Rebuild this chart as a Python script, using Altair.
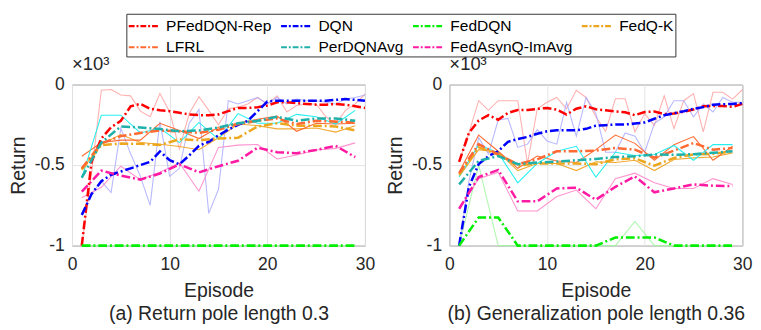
import altair as alt
import pandas as pd

methods = ["PFedDQN-Rep", "DQN", "FedDQN", "FedQ-K", "LFRL", "PerDQNAvg", "FedAsynQ-ImAvg"]
main_colors = ["#ff0000", "#0000ff", "#00ee00", "#eda71f", "#ff6a33", "#1fb0aa", "#ff1aa3"]
raw_colors = ["#ff9c9c", "#a6a6ff", "#9cf59c", "#f0a528", "#ff6428", "#19eeee", "#ff80c8"]
raw_opacity = [0.8, 0.8, 0.8, 0.95, 0.95, 0.95, 0.85]

ep_all = list(range(1, 31))
ep_odd = list(range(1, 30, 2))

# ---------------- (a) Return pole length 0.3 ----------------
a_smooth = {
    "PFedDQN-Rep": [-1.0, -0.48, -0.335, -0.265, -0.225, -0.135, -0.12, -0.15, -0.16, -0.165,
                    -0.175, -0.185, -0.19, -0.19, -0.185, -0.165, -0.145, -0.145, -0.14, -0.13,
                    -0.11, -0.11, -0.115, -0.12, -0.125, -0.125, -0.12, -0.125, -0.135, -0.145],
    "DQN": [-0.81, -0.68, -0.6, -0.56, -0.54, -0.52, -0.5, -0.48, -0.415, -0.47,
            -0.495, -0.44, -0.38, -0.355, -0.315, -0.28, -0.25, -0.225, -0.165, -0.105,
            -0.1, -0.1, -0.1, -0.1, -0.1, -0.1, -0.095, -0.09, -0.095, -0.1],
    "FedDQN": [-1.0] * 15,
    "FedQ-K": [-0.527, -0.376, -0.366, -0.368, -0.375, -0.34, -0.345, -0.335, -0.33, -0.26,
               -0.24, -0.255, -0.255, -0.26, -0.285],
    "LFRL": [-0.52, -0.365, -0.32, -0.3, -0.285, -0.29, -0.3, -0.28, -0.245, -0.225,
             -0.21, -0.245, -0.225, -0.23, -0.235],
    "PerDQNAvg": [-0.578, -0.36, -0.26, -0.266, -0.276, -0.29, -0.285, -0.266, -0.24, -0.225,
                  -0.2, -0.225, -0.21, -0.21, -0.225],
    "FedAsynQ-ImAvg": [-0.665, -0.535, -0.565, -0.59, -0.552, -0.495, -0.545, -0.507, -0.473, -0.392,
                       -0.42, -0.426, -0.406, -0.38, -0.45],
}
a_raw = {
    "PFedDQN-Rep": [-1.0, -0.55, -0.035, -0.03, -0.065, -0.07, -0.165, -0.2, -0.055, -0.17,
                    -0.4, -0.18, -0.075, -0.16, -0.25, -0.15, -0.14, -0.12, -0.08, -0.12,
                    -0.07, -0.17, -0.13, -0.12, -0.12, -0.2, -0.245, -0.16, -0.12, -0.06],
    "DQN": [-0.8, -0.68, -0.6, -0.67, -0.27, -0.43, -0.57, -0.75, -0.23, -0.57,
            -0.52, -0.24, -0.155, -0.8, -0.65, -0.1, -0.12, -0.1, -0.08, -0.12,
            -0.08, -0.12, -0.09, -0.1, -0.1, -0.11, -0.12, -0.09, -0.08, -0.065],
    "FedDQN": [-1.0] * 15,
    "FedQ-K": [-0.53, -0.37, -0.31, -0.36, -0.37, -0.385, -0.405, -0.33, -0.245, -0.255,
               -0.275, -0.275, -0.27, -0.295, -0.255],
    "LFRL": [-0.445, -0.36, -0.345, -0.345, -0.24, -0.285, -0.335, -0.265, -0.24, -0.215,
             -0.195, -0.29, -0.24, -0.245, -0.24],
    "PerDQNAvg": [-0.58, -0.19, -0.19, -0.3, -0.27, -0.36, -0.235, -0.34, -0.18, -0.24,
                  -0.24, -0.185, -0.2, -0.245, -0.16],
    "FedAsynQ-ImAvg": [-0.703, -0.638, -0.507, -0.59, -0.545, -0.487, -0.662, -0.39, -0.376, -0.372,
                       -0.462, -0.437, -0.406, -0.396, -0.362],
}

# ---------------- (b) Generalization pole length 0.36 ----------------
b_smooth = {
    "PFedDQN-Rep": [-0.48, -0.3, -0.223, -0.19, -0.218, -0.176, -0.158, -0.158, -0.151, -0.145,
                    -0.155, -0.186, -0.15, -0.135, -0.153, -0.16, -0.167, -0.172, -0.19, -0.17,
                    -0.167, -0.183, -0.18, -0.168, -0.155, -0.135, -0.133, -0.133, -0.138, -0.12],
    "DQN": [-1.0, -0.635, -0.494, -0.444, -0.414, -0.355, -0.338, -0.325, -0.305, -0.29,
            -0.283, -0.283, -0.283, -0.275, -0.255, -0.252, -0.248, -0.248, -0.242, -0.235,
            -0.212, -0.19, -0.178, -0.165, -0.15, -0.14, -0.125, -0.122, -0.12, -0.115],
    "FedDQN": [-1.0, -0.825, -0.825, -1.0, -1.0, -1.0, -1.0, -1.0, -0.95, -0.95,
               -0.95, -1.0, -1.0, -1.0, -1.0],
    "FedQ-K": [-0.56, -0.39, -0.434, -0.504, -0.49, -0.49, -0.49, -0.494, -0.464, -0.458,
               -0.504, -0.455, -0.434, -0.43, -0.414],
    "LFRL": [-0.55, -0.37, -0.434, -0.494, -0.464, -0.414, -0.414, -0.41, -0.394, -0.404,
             -0.454, -0.41, -0.363, -0.404, -0.394],
    "PerDQNAvg": [-0.62, -0.474, -0.444, -0.494, -0.484, -0.478, -0.47, -0.462, -0.45, -0.445,
                  -0.434, -0.436, -0.432, -0.424, -0.414],
    "FedAsynQ-ImAvg": [-0.771, -0.574, -0.53, -0.725, -0.725, -0.645, -0.641, -0.715, -0.635, -0.57,
                       -0.669, -0.645, -0.62, -0.628, -0.63],
}
b_raw = {
    "PFedDQN-Rep": [-0.48, -0.3, -0.1, -0.16, -0.1, -0.1, -0.1, -0.49, -0.15, -0.11,
                    -0.08, -0.15, -0.035, -0.08, -0.2, -0.29, -0.088, -0.088, -0.293, -0.18,
                    -0.253, -0.07, -0.273, -0.1, -0.056, -0.293, -0.048, -0.048, -0.09, -0.032],
    "DQN": [-1.0, -0.6, -0.33, -0.43, -0.22, -0.21, -0.39, -0.37, -0.28, -0.35,
            -0.37, -0.11, -0.32, -0.08, -0.18, -0.42, -0.42, -0.3, -0.32, -0.42,
            -0.24, -0.2, -0.1, -0.1, -0.2, -0.12, -0.17, -0.08, -0.11, -0.11],
    "FedDQN": [-1.0, -0.5, -1.0, -1.0, -1.0, -1.0, -1.0, -1.0, -1.0, -0.85,
               -1.0, -1.0, -1.0, -1.0, -1.0],
    "FedQ-K": [-0.57, -0.404, -0.42, -0.534, -0.49, -0.49, -0.534, -0.48, -0.484, -0.47,
               -0.534, -0.465, -0.455, -0.45, -0.424],
    "LFRL": [-0.544, -0.313, -0.414, -0.52, -0.444, -0.474, -0.484, -0.404, -0.313, -0.365,
             -0.47, -0.373, -0.323, -0.47, -0.383],
    "PerDQNAvg": [-0.574, -0.373, -0.424, -0.61, -0.49, -0.414, -0.383, -0.574, -0.42, -0.44,
                  -0.434, -0.378, -0.47, -0.373, -0.373],
    "FedAsynQ-ImAvg": [-0.771, -0.584, -0.544, -0.785, -0.785, -0.695, -0.655, -0.771, -0.584, -0.55,
                       -0.61, -0.645, -0.645, -0.584, -0.62],
}

y_tick_values = [-1, -0.5, 0]
x_tick_values = [0, 10, 20, 30]
FONT = "Liberation Sans"
TXT = "#262626"


def build_frame(smooth, raw):
    rows = []
    for i, m in enumerate(methods):
        for kind, src in (("smooth", smooth), ("raw", raw)):
            vals = src[m]
            eps = ep_all if len(vals) == 30 else ep_odd
            for e, v in zip(eps, vals):
                rows.append({"method": m, "episode": e, "value": v, "kind": kind,
                             "rawcolor": raw_colors[i], "rawop": raw_opacity[i],
                             "ord": i})
    return pd.DataFrame(rows)


legend = alt.Legend(
    title=None, orient="none", legendX=56, legendY=-73, columns=4, direction="horizontal",
    symbolType="M-1,0H2.2", symbolSize=400, symbolStrokeWidth=2.2,
    symbolDash=[6, 2, 2, 2], labelFontSize=16, labelFont=FONT, labelColor="#000000",
    labelOffset=17, columnPadding=5, rowPadding=2, padding=1,
    strokeColor="#333333", fillColor="white", labelLimit=300,
)


def panel(smooth, raw, subtitle):
    df = build_frame(smooth, raw)
    x = alt.X("episode:Q", scale=alt.Scale(domain=[0, 30], nice=False),
              axis=alt.Axis(values=x_tick_values, title=["Episode", subtitle],
                            labelFlush=False, titleLineHeight=24, titlePadding=7,
                            labelPadding=11))
    y = alt.Y("value:Q", scale=alt.Scale(domain=[-1, 0], nice=False),
              axis=alt.Axis(values=y_tick_values, title="Return",
                            labelExpr="datum.value == 0 ? '0' : (datum.value == -1 ? '-1' : '-0.5')",
                            titlePadding=6, labelPadding=8))
    base = alt.Chart(df)
    raw_layer = base.transform_filter(alt.datum.kind == "raw").mark_line(strokeWidth=1.1).encode(
        x=x, y=y,
        color=alt.Color("rawcolor:N", scale=None),
        opacity=alt.Opacity("rawop:Q", scale=None),
        detail="method:N",
    )
    smooth_layer = base.transform_filter(alt.datum.kind == "smooth").mark_line(
        strokeWidth=2.6, strokeDash=[9, 3, 2, 3]
    ).encode(
        x=x, y=y,
        color=alt.Color("method:N", scale=alt.Scale(domain=methods, range=main_colors),
                        legend=legend, sort=methods),
        order=alt.Order("ord:Q"),
    )
    return alt.layer(raw_layer, smooth_layer).properties(
        width=302, height=166,
        title=alt.TitleParams("×10³", anchor="start", frame="group", fontSize=19,
                              fontWeight="normal", font=FONT, color=TXT, offset=2),
    )


chart = alt.hconcat(
    panel(a_smooth, a_raw, "(a) Return pole length 0.3"),
    panel(b_smooth, b_raw, "(b) Generalization pole length 0.36"),
    spacing=10,
).properties(padding=0).configure_view(
    stroke="#7a7a7a", strokeWidth=1
).configure_axis(
    labelFont=FONT, titleFont=FONT, labelFontSize=18, titleFontSize=20,
    titleFontWeight="normal", labelColor=TXT, titleColor=TXT,
    grid=True, gridColor="#e3e3e3", gridWidth=1, domain=False, ticks=False,
)

chart.save("out.html", embed_options={"renderer": "svg", "actions": False})
